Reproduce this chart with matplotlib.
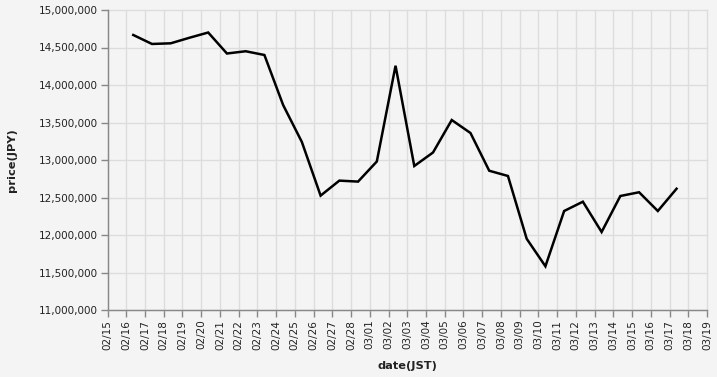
import matplotlib
matplotlib.use("Agg")
import matplotlib.pyplot as plt
import matplotlib.dates as mdates
import matplotlib.ticker as mticker
import numpy as np
from datetime import datetime, timedelta

dates = ["02/16", "02/17", "02/18", "02/19", "02/20", "02/21", "02/22", "02/23",
         "02/24", "02/25", "02/26", "02/27", "02/28", "03/01", "03/02", "03/03",
         "03/04", "03/05", "03/06", "03/07", "03/08", "03/09", "03/10", "03/11",
         "03/12", "03/13", "03/14", "03/15", "03/16", "03/17"]
prices = [14667000, 14547000, 14556000, 14630000, 14700000, 14420000, 14450000, 14400000,
          13733000, 13240000, 12525000, 12725000, 12712000, 12980000, 14257000, 12920000,
          13100000, 13533000, 13360000, 12857000, 12787000, 11950000, 11583000, 12320000,
          12444000, 12040000, 12520000, 12570000, 12320000, 12617000]

year = 2025
x = [datetime.strptime(f"{year}/{d}", "%Y/%m/%d") + timedelta(hours=9) for d in dates]

W, H = 717, 377
fig = plt.figure(figsize=(W / 100, H / 100), dpi=100, facecolor="#f4f4f4")
left, right, top, bottom = 107.5, 707, 10, 310
ax = fig.add_axes([left / W, 1 - bottom / H, (right - left) / W, (bottom - top) / H])
ax.set_facecolor("#f4f4f4")

ax.plot(x, prices, color="black", lw=1.8, solid_joinstyle="miter", zorder=3)

ax.set_xlim(datetime(year, 2, 15), datetime(year, 3, 19))
ax.set_ylim(11000000, 15000000)
ax.xaxis.set_major_locator(mdates.DayLocator())
ax.xaxis.set_major_formatter(mdates.DateFormatter("%m/%d"))
ax.yaxis.set_major_locator(mticker.MultipleLocator(500000))
ax.yaxis.set_major_formatter(mticker.FuncFormatter(lambda v, p: f"{int(v):,}"))

for s in ["top", "right"]:
    ax.spines[s].set_visible(False)
for s in ["left", "bottom"]:
    ax.spines[s].set_color("#888888")
    ax.spines[s].set_linewidth(1)

ax.grid(True, color="#dddddd", lw=1)
for gl in ax.get_xgridlines() + ax.get_ygridlines():
    gl.set_clip_on(False)
ax.set_axisbelow(True)

ax.tick_params(axis="both", length=5, width=1, color="#888888", labelsize=7.5,
               labelcolor="#222222", pad=2)
plt.setp(ax.get_xticklabels(), rotation=90, ha="center", va="top")

fig.text(12 / W, 1 - 160 / H, "price(JPY)", rotation=90, fontsize=8.2,
         fontweight="bold", ha="center", va="center", color="#222222")
fig.text(407 / W, 1 - 366 / H, "date(JST)", fontsize=8.2, fontweight="bold",
         ha="center", va="center", color="#222222")

fig.savefig("out.png", dpi=100, facecolor="#f4f4f4")
